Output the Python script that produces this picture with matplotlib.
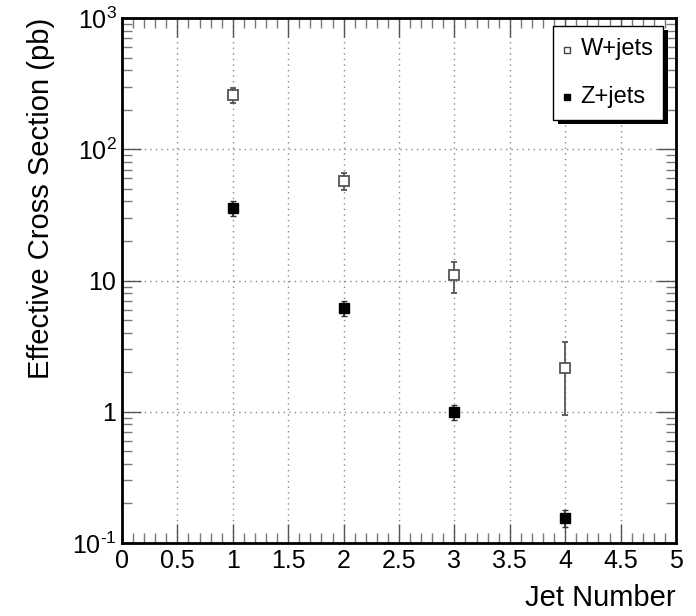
import numpy as np
import matplotlib.pyplot as plt
from matplotlib.patches import Rectangle
from matplotlib.ticker import FixedLocator, MultipleLocator, LogLocator, NullFormatter

plt.rcParams['font.family'] = ['Liberation Sans', 'DejaVu Sans']
plt.rcParams['mathtext.fontset'] = 'custom'
plt.rcParams['mathtext.rm'] = 'Liberation Sans'
plt.rcParams['mathtext.it'] = 'Liberation Sans'

# data
jets = [1, 2, 3, 4]
w_xsec = [260, 57, 11, 2.15]
w_err_lo = [35, 8, 2.9, 1.2]
w_err_hi = [35, 9, 2.8, 1.25]
z_xsec = [35.5, 6.2, 1.0, 0.155]
z_err = [4.5, 0.8, 0.13, 0.022]

ytick_pos = [0.1, 1, 10, 100, 1000]
ytick_lab = ['10$^{\\text{-1}}$', '1', '10', '10$^{2}$', '10$^{3}$']
xtick_pos = [0, 0.5, 1, 1.5, 2, 2.5, 3, 3.5, 4, 4.5, 5]
xtick_lab = ['0', '0.5', '1', '1.5', '2', '2.5', '3', '3.5', '4', '4.5', '5']

fig = plt.figure(figsize=(6.96, 6.16), dpi=100)
ax = fig.add_axes([122 / 696, 1 - 543 / 616, 554 / 696, 525 / 616])

ax.set_yscale('log')
ax.set_xlim(0, 5)
ax.set_ylim(0.1, 1000)

ax.errorbar(jets, w_xsec, yerr=[w_err_lo, w_err_hi], fmt='s', mfc='white', mec='#555555',
            ecolor='#555555', ms=7, mew=1.3, capsize=2, elinewidth=1.3, zorder=3)
ax.errorbar(jets, z_xsec, yerr=z_err, fmt='s', mfc='black', mec='black',
            ecolor='#333333', ms=7, capsize=2, elinewidth=1.3, zorder=3)

ax.xaxis.set_major_locator(FixedLocator(xtick_pos))
ax.set_xticklabels(xtick_lab)
ax.xaxis.set_minor_locator(MultipleLocator(0.1))
ax.yaxis.set_major_locator(FixedLocator(ytick_pos))
ax.set_yticklabels(ytick_lab)
ax.yaxis.set_minor_locator(LogLocator(base=10, subs=np.arange(2, 10)))
ax.yaxis.set_minor_formatter(NullFormatter())

ax.tick_params(which='both', direction='in', top=True, right=True, colors='black')
ax.tick_params(which='major', length=14, width=1, color='#555555')
ax.tick_params(which='minor', length=7, width=1, color='#777777')
ax.tick_params(axis='x', pad=4, labelsize=18)
ax.tick_params(axis='y', pad=4, labelsize=18)

ax.grid(True, which='major', linestyle=(0, (1, 3)), color='#888888', linewidth=1)

for s in ['left', 'bottom', 'top', 'right']:
    ax.spines[s].set_linewidth(2)
    ax.spines[s].set_color('black')

ax.set_xlabel('Jet Number', fontsize=21, ha='right', x=1.0, labelpad=8)
ax.set_ylabel('Effective Cross Section (pb)', fontsize=21, ha='right', y=1.0, labelpad=12)

# legend box with shadow, ROOT style
fx0, fy0, fw, fh = 553 / 696, 1 - 120 / 616, 110 / 696, 94 / 616
fig.patches.append(Rectangle((fx0 + 0.007, fy0 - 0.007), fw, fh, transform=fig.transFigure,
                             facecolor='black', edgecolor='none', zorder=5))
fig.patches.append(Rectangle((fx0, fy0), fw, fh, transform=fig.transFigure,
                             facecolor='white', edgecolor='black', lw=1, zorder=6))
lax = fig.add_axes([fx0, fy0, fw, fh], zorder=7)
lax.axis('off')
lax.set_xlim(0, 1)
lax.set_ylim(0, 1)
lax.plot([0.13], [0.75], 's', mfc='white', mec='#444444', ms=5)
lax.plot([0.13], [0.24], 's', mfc='black', mec='black', ms=5)
lax.text(0.25, 0.75, 'W+jets', fontsize=17, va='center')
lax.text(0.25, 0.24, 'Z+jets', fontsize=17, va='center')

fig.savefig('out.png', dpi=100)
